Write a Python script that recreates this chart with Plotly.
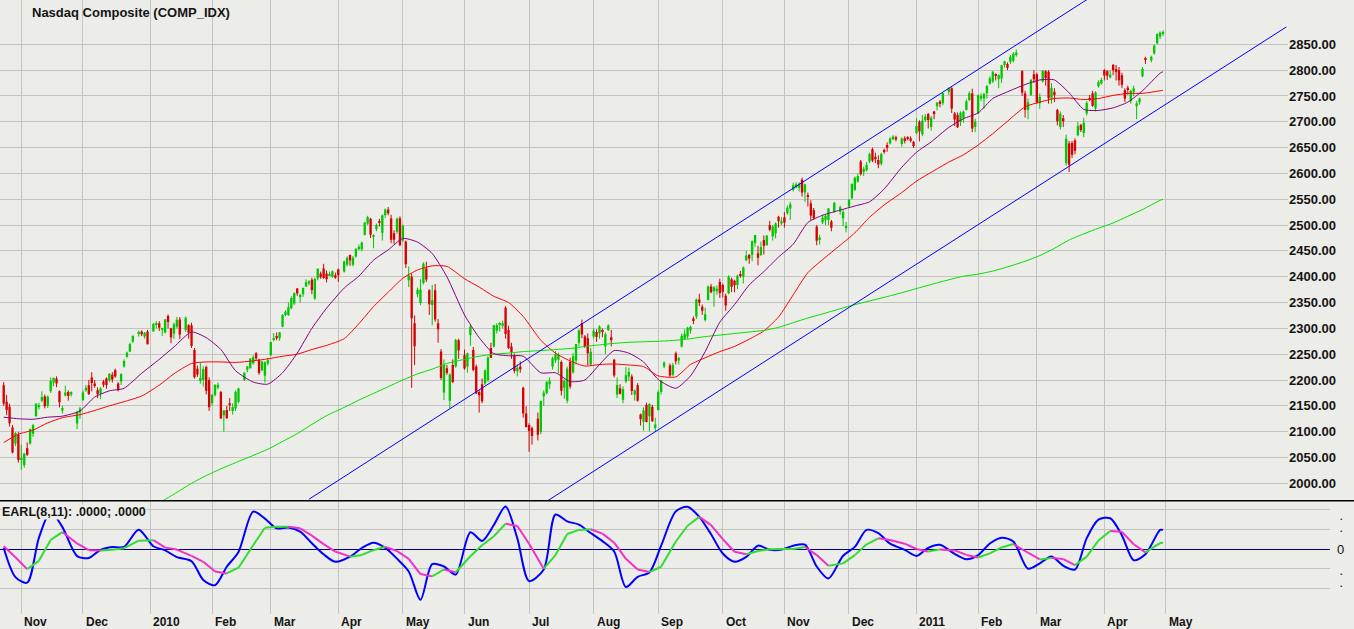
import numpy as np
import pandas as pd
import plotly.graph_objects as go

# ---------------- data ----------------
FIRST_DAY = "2009-10-23"
LAST_DAY = "2011-04-29"
market_holidays = ["2009-11-26", "2009-12-25", "2010-01-01", "2010-01-18", "2010-02-15",
                   "2010-04-02", "2010-05-31", "2010-07-05", "2010-09-06", "2010-11-25",
                   "2010-12-24", "2011-01-17", "2011-02-21", "2011-04-22"]

opens = [
    2190, 2158, 2148, 2108, 2077, 2094,
    2045, 2035, 2068, 2077, 2096, 2130, 2149, 2160, 2168, 2150, 2178, 2195, 2203, 2178, 2141, 2170, 2177, 2172, 2116, 2137,
    2161, 2180, 2190, 2205, 2193, 2180, 2174, 2197, 2203, 2200, 2210, 2219, 2193, 2197, 2226, 2245, 2255, 2274, 2290, 2294, 2284, 2294,
    2294, 2307, 2310, 2298, 2292, 2324, 2300, 2290, 2303, 2317, 2297, 2306, 2306, 2258, 2222, 2200, 2200, 2225, 2200,
    2155, 2171, 2185, 2177, 2132, 2142, 2155, 2140, 2145, 2158, 2200, 2220, 2223, 2232, 2252, 2239, 2219, 2208, 2232,
    2248, 2279, 2285, 2281, 2303, 2326, 2326, 2339, 2348, 2377, 2361, 2366, 2381, 2387, 2394, 2358, 2397, 2406, 2416, 2406, 2403, 2400, 2403,
    2414, 2410, 2423, 2442, 2423, 2439, 2453, 2453, 2481, 2503, 2512, 2477, 2492, 2508, 2485, 2519, 2530, 2513, 2484, 2487, 2513,
    2470, 2468, 2393, 2400, 2310, 2366, 2349, 2388, 2416, 2374, 2345, 2374, 2310, 2255, 2176, 2223, 2160, 2229, 2226, 2277,
    2248, 2226, 2287, 2258, 2226, 2177, 2192, 2193, 2200, 2262, 2265, 2296, 2307, 2305, 2340, 2297, 2265, 2248, 2217, 2226, 2185, 2135,
    2113, 2107, 2125, 2100, 2168, 2175, 2192, 2226, 2238, 2239, 2235, 2185, 2160, 2235, 2215, 2238, 2272, 2310, 2284, 2281, 2230,
    2284, 2293, 2290, 2297, 2265, 2297, 2283, 2239, 2172, 2184, 2162, 2197, 2207, 2207, 2172, 2190, 2133, 2119, 2152, 2130, 2148, 2107,
    2142, 2177, 2226, 2228, 2210, 2252, 2238, 2265, 2280, 2284, 2296, 2319, 2323, 2356, 2342, 2316, 2355, 2381, 2372, 2372, 2390,
    2384, 2363, 2368, 2395, 2392, 2384, 2405, 2400, 2432, 2442, 2442, 2465, 2445, 2442, 2471, 2461, 2500, 2478, 2484, 2516, 2503,
    2515, 2523, 2532, 2568, 2573, 2572, 2588, 2563, 2556, 2542, 2529, 2497, 2471, 2505, 2510, 2510, 2507, 2526, 2526, 2513, 2494,
    2536, 2552, 2568, 2584, 2623, 2603, 2606, 2623, 2647, 2632, 2626, 2619, 2645, 2655, 2658, 2666, 2670, 2657, 2668, 2670, 2668, 2661,
    2678, 2700, 2676, 2703, 2715, 2690, 2720, 2730, 2739, 2736, 2758, 2765, 2716, 2713, 2700, 2707, 2723, 2742, 2755, 2690,
    2716, 2745, 2745, 2755, 2774, 2778, 2792, 2783, 2784, 2810, 2812, 2816, 2818, 2829, 2798, 2755, 2723, 2752, 2792,
    2792, 2736, 2778, 2798, 2797, 2745, 2758, 2723, 2690, 2707, 2620, 2658, 2659, 2664, 2674, 2694, 2678, 2716, 2745, 2755, 2726, 2769, 2774,
    2800, 2798, 2786, 2810, 2802, 2800, 2790, 2761, 2766, 2740, 2758, 2730, 2738, 2788, 2822, 2819, 2832, 2852, 2865, 2870,
]
highs = [
    2196, 2171, 2154, 2113, 2099, 2099,
    2075, 2059, 2079, 2106, 2115, 2155, 2156, 2178, 2172, 2170, 2205, 2205, 2207, 2180, 2150, 2189, 2180, 2178, 2140, 2148,
    2180, 2190, 2200, 2215, 2200, 2186, 2186, 2200, 2205, 2213, 2215, 2222, 2196, 2213, 2240, 2255, 2272, 2286, 2296, 2296, 2293, 2297,
    2311, 2314, 2314, 2301, 2318, 2327, 2301, 2311, 2322, 2322, 2323, 2308, 2311, 2262, 2228, 2233, 2227, 2228, 2205,
    2173, 2192, 2195, 2179, 2142, 2150, 2165, 2155, 2180, 2185, 2215, 2227, 2242, 2248, 2254, 2241, 2237, 2236, 2243,
    2274, 2291, 2292, 2293, 2327, 2335, 2350, 2362, 2370, 2378, 2367, 2379, 2395, 2393, 2398, 2398, 2416, 2410, 2425, 2412, 2410, 2412, 2408,
    2416, 2431, 2439, 2443, 2440, 2455, 2462, 2468, 2506, 2518, 2514, 2482, 2503, 2512, 2520, 2532, 2535, 2520, 2490, 2515, 2517,
    2501, 2470, 2420, 2406, 2325, 2379, 2395, 2428, 2429, 2376, 2384, 2386, 2318, 2260, 2240, 2229, 2213, 2240, 2280, 2280,
    2259, 2253, 2307, 2264, 2230, 2180, 2203, 2220, 2246, 2272, 2307, 2310, 2312, 2315, 2343, 2305, 2272, 2251, 2230, 2236, 2187, 2149,
    2116, 2110, 2137, 2160, 2180, 2197, 2205, 2245, 2256, 2253, 2238, 2201, 2226, 2243, 2252, 2270, 2298, 2317, 2287, 2290, 2262,
    2300, 2298, 2306, 2300, 2292, 2308, 2297, 2241, 2205, 2192, 2188, 2225, 2224, 2211, 2182, 2194, 2135, 2147, 2156, 2155, 2152, 2127,
    2180, 2200, 2236, 2232, 2233, 2255, 2245, 2290, 2298, 2303, 2305, 2323, 2358, 2367, 2346, 2340, 2383, 2386, 2382, 2383, 2396,
    2387, 2367, 2403, 2398, 2394, 2404, 2411, 2420, 2450, 2444, 2470, 2481, 2460, 2468, 2480, 2481, 2508, 2500, 2505, 2518, 2515,
    2525, 2538, 2545, 2582, 2583, 2583, 2592, 2580, 2563, 2548, 2533, 2500, 2481, 2520, 2520, 2533, 2510, 2545, 2538, 2530, 2506,
    2550, 2581, 2594, 2600, 2626, 2613, 2622, 2640, 2650, 2640, 2635, 2640, 2648, 2660, 2670, 2674, 2673, 2670, 2672, 2672, 2672, 2663,
    2707, 2703, 2713, 2715, 2717, 2711, 2721, 2738, 2742, 2756, 2766, 2767, 2719, 2718, 2720, 2722, 2743, 2759, 2764, 2706,
    2753, 2755, 2756, 2771, 2788, 2798, 2794, 2792, 2810, 2818, 2815, 2829, 2835, 2840, 2800, 2760, 2745, 2783, 2800,
    2795, 2755, 2800, 2800, 2800, 2775, 2765, 2725, 2720, 2713, 2675, 2663, 2663, 2668, 2700, 2696, 2708, 2740, 2752, 2760, 2759, 2780, 2785,
    2802, 2800, 2800, 2812, 2810, 2806, 2795, 2765, 2770, 2762, 2770, 2740, 2747, 2806, 2826, 2828, 2850, 2871, 2875, 2877,
]
lows = [
    2150, 2132, 2110, 2058, 2072, 2040,
    2026, 2030, 2053, 2075, 2090, 2129, 2143, 2157, 2145, 2146, 2175, 2188, 2186, 2147, 2135, 2168, 2160, 2168, 2105, 2125,
    2160, 2177, 2171, 2178, 2185, 2165, 2163, 2186, 2183, 2196, 2195, 2204, 2178, 2190, 2224, 2243, 2254, 2272, 2284, 2285, 2280, 2269,
    2294, 2300, 2295, 2285, 2290, 2300, 2271, 2280, 2300, 2279, 2293, 2280, 2262, 2203, 2206, 2193, 2187, 2172, 2140,
    2150, 2168, 2182, 2125, 2100, 2125, 2140, 2133, 2140, 2155, 2198, 2215, 2222, 2230, 2238, 2210, 2217, 2195, 2228,
    2246, 2275, 2277, 2276, 2302, 2324, 2324, 2337, 2345, 2363, 2350, 2361, 2380, 2383, 2366, 2355, 2393, 2396, 2396, 2389, 2401, 2398, 2396,
    2390, 2408, 2420, 2421, 2420, 2437, 2452, 2449, 2480, 2500, 2475, 2455, 2488, 2497, 2470, 2514, 2519, 2465, 2463, 2483, 2459,
    2467, 2417, 2380, 2185, 2229, 2360, 2345, 2385, 2390, 2326, 2306, 2313, 2272, 2200, 2161, 2210, 2145, 2194, 2224, 2241,
    2220, 2214, 2266, 2217, 2173, 2137, 2155, 2190, 2196, 2243, 2263, 2290, 2294, 2300, 2280, 2260, 2241, 2213, 2207, 2214, 2127, 2108,
    2061, 2075, 2083, 2095, 2150, 2172, 2183, 2220, 2233, 2213, 2170, 2164, 2155, 2183, 2212, 2230, 2266, 2281, 2262, 2229, 2228,
    2280, 2274, 2280, 2283, 2250, 2295, 2265, 2205, 2165, 2172, 2155, 2194, 2198, 2171, 2160, 2158, 2112, 2102, 2118, 2100, 2119, 2100,
    2141, 2172, 2223, 2206, 2207, 2230, 2230, 2263, 2278, 2280, 2290, 2308, 2318, 2343, 2326, 2313, 2354, 2368, 2342, 2365, 2359,
    2360, 2334, 2366, 2370, 2370, 2376, 2398, 2387, 2430, 2425, 2430, 2458, 2422, 2440, 2443, 2460, 2488, 2470, 2474, 2495, 2500,
    2495, 2520, 2510, 2565, 2571, 2565, 2555, 2545, 2536, 2509, 2510, 2461, 2462, 2502, 2500, 2500, 2488, 2524, 2520, 2498, 2486,
    2535, 2550, 2566, 2582, 2596, 2595, 2604, 2620, 2622, 2620, 2610, 2615, 2638, 2642, 2656, 2665, 2662, 2652, 2658, 2664, 2660, 2649,
    2676, 2662, 2672, 2700, 2687, 2683, 2705, 2722, 2728, 2732, 2752, 2717, 2692, 2688, 2692, 2698, 2722, 2740, 2680, 2680,
    2715, 2740, 2725, 2745, 2772, 2775, 2780, 2765, 2775, 2805, 2800, 2812, 2815, 2826, 2750, 2708, 2705, 2750, 2775,
    2735, 2725, 2776, 2770, 2735, 2735, 2738, 2693, 2685, 2690, 2615, 2603, 2630, 2637, 2672, 2680, 2670, 2712, 2740, 2729, 2720, 2766, 2772,
    2780, 2781, 2784, 2790, 2780, 2770, 2765, 2738, 2752, 2735, 2750, 2705, 2733, 2786, 2812, 2815, 2830, 2850, 2860, 2866,
]
closes = [
    2154.5, 2141.9, 2116.1, 2059.6, 2097.6, 2045.1,
    2049.2, 2057.3, 2055.5, 2105.3, 2112.4, 2154.1, 2151.1, 2166.9, 2149.0, 2167.9, 2197.9, 2203.8, 2193.1, 2156.8, 2146.0, 2176.0, 2169.2, 2176.1, 2138.4, 2144.6,
    2175.8, 2185.0, 2173.1, 2194.4, 2189.6, 2172.9, 2183.7, 2190.9, 2190.3, 2212.1, 2201.1, 2206.9, 2180.1, 2211.7, 2237.0, 2252.7, 2269.6, 2285.7, 2291.1, 2288.4, 2291.3, 2269.2,
    2308.4, 2308.7, 2301.1, 2300.1, 2317.2, 2312.4, 2282.3, 2307.9, 2316.7, 2288.0, 2320.4, 2291.3, 2265.7, 2205.3, 2210.8, 2203.7, 2221.4, 2179.0, 2147.4,
    2171.2, 2190.1, 2190.9, 2125.4, 2141.1, 2126.1, 2150.9, 2147.9, 2177.4, 2183.5, 2214.2, 2226.3, 2241.7, 2243.9, 2242.0, 2213.4, 2235.9, 2234.2, 2238.3,
    2273.6, 2280.8, 2280.9, 2292.3, 2326.4, 2332.2, 2340.7, 2358.9, 2368.5, 2367.7, 2362.2, 2378.0, 2389.1, 2391.3, 2374.4, 2395.4, 2415.2, 2398.8, 2397.4, 2395.1, 2404.4, 2410.7, 2397.9,
    2402.6, 2429.5, 2436.8, 2431.2, 2436.8, 2454.1, 2457.9, 2465.9, 2504.9, 2515.7, 2481.3, 2480.1, 2500.3, 2504.6, 2519.1, 2530.2, 2522.9, 2471.5, 2471.7, 2511.9, 2461.2,
    2498.7, 2424.3, 2402.3, 2319.6, 2265.6, 2374.7, 2375.3, 2425.0, 2394.4, 2346.9, 2354.2, 2317.3, 2298.4, 2204.0, 2229.0, 2213.6, 2210.9, 2195.9, 2277.7, 2257.0,
    2222.3, 2251.7, 2303.0, 2219.2, 2173.9, 2170.6, 2158.9, 2218.7, 2243.6, 2243.0, 2305.9, 2305.9, 2307.2, 2309.8, 2289.1, 2261.8, 2254.2, 2217.4, 2223.5, 2220.6, 2135.2, 2109.2,
    2101.4, 2091.8, 2093.9, 2159.5, 2175.4, 2196.5, 2198.4, 2242.0, 2249.8, 2249.1, 2179.0, 2198.4, 2222.5, 2187.3, 2245.9, 2269.5, 2296.4, 2288.3, 2264.6, 2251.7, 2254.7,
    2295.4, 2283.5, 2303.6, 2293.1, 2288.5, 2305.7, 2277.2, 2208.6, 2190.3, 2173.5, 2181.9, 2209.4, 2215.7, 2178.9, 2179.8, 2159.6, 2123.8, 2141.5, 2118.7, 2153.6, 2120.0, 2114.0,
    2176.8, 2200.0, 2233.8, 2208.9, 2228.9, 2236.2, 2242.5, 2285.7, 2289.8, 2301.3, 2303.2, 2315.6, 2355.8, 2349.4, 2334.2, 2327.1, 2381.2, 2369.8, 2379.6, 2376.6, 2368.6,
    2370.8, 2344.5, 2399.8, 2380.7, 2383.7, 2401.9, 2402.3, 2417.9, 2441.2, 2435.4, 2468.8, 2480.7, 2436.9, 2457.4, 2459.7, 2479.4, 2490.9, 2497.3, 2503.3, 2507.4, 2507.4,
    2504.8, 2533.5, 2540.3, 2577.3, 2579.0, 2580.1, 2563.0, 2578.8, 2555.5, 2518.2, 2513.8, 2469.8, 2476.0, 2514.4, 2518.1, 2532.0, 2494.9, 2543.1, 2534.6, 2525.2, 2498.2,
    2549.4, 2579.4, 2591.5, 2594.9, 2598.5, 2609.2, 2616.7, 2637.5, 2624.9, 2627.7, 2617.2, 2637.3, 2643.0, 2649.6, 2667.6, 2671.5, 2665.6, 2667.3, 2662.9, 2666.9, 2663.0, 2652.9,
    2691.5, 2681.3, 2702.2, 2709.9, 2703.2, 2707.8, 2716.8, 2737.3, 2735.3, 2755.3, 2765.9, 2725.4, 2704.3, 2689.5, 2717.6, 2719.3, 2739.5, 2755.3, 2686.9, 2700.1,
    2751.2, 2749.6, 2753.9, 2769.3, 2784.0, 2797.1, 2789.1, 2790.5, 2809.4, 2817.2, 2804.4, 2825.6, 2831.6, 2834.0, 2756.4, 2723.0, 2737.9, 2781.0, 2782.3,
    2737.4, 2748.1, 2798.7, 2784.7, 2745.6, 2765.8, 2751.7, 2701.0, 2715.6, 2701.0, 2667.3, 2616.8, 2636.0, 2643.7, 2692.1, 2683.9, 2698.3, 2736.4, 2743.1, 2730.7, 2756.9, 2776.8, 2781.1,
    2789.6, 2789.2, 2791.2, 2799.8, 2796.1, 2780.4, 2771.5, 2744.8, 2761.5, 2760.2, 2764.7, 2735.4, 2745.0, 2802.5, 2820.2, 2825.9, 2847.5, 2869.9, 2872.5, 2873.5,
]

# moving averages, one value every 5th bar (+ the last bar)
ma_step = 5
ma20_values = [2128, 2125, 2124, 2128, 2130, 2140, 2167, 2179, 2184, 2213, 2240, 2264, 2293, 2282, 2259, 2218,
               2196, 2192, 2214, 2252, 2300, 2339, 2378, 2401, 2432, 2452, 2474, 2467, 2445, 2400, 2326, 2282,
               2251, 2247, 2246, 2214, 2214, 2197, 2200, 2230, 2257, 2252, 2235, 2201, 2184, 2208, 2255, 2312,
               2346, 2384, 2410, 2438, 2463, 2505, 2519, 2529, 2537, 2545, 2570, 2612, 2641, 2661, 2689, 2706,
               2717, 2745, 2758, 2772, 2781, 2781, 2756, 2724, 2722, 2727, 2738, 2760, 2794, 2797]
ma50_values = [2079, 2095, 2103, 2117, 2127, 2133, 2141, 2150, 2158, 2169, 2190, 2212, 2232, 2235, 2235, 2234,
               2237, 2241, 2246, 2250, 2259, 2267, 2280, 2309, 2342, 2370, 2397, 2413, 2421, 2420, 2396, 2380,
               2362, 2350, 2323, 2277, 2252, 2237, 2227, 2230, 2231, 2229, 2226, 2208, 2206, 2230, 2243, 2255,
               2265, 2279, 2295, 2322, 2365, 2408, 2433, 2461, 2485, 2515, 2539, 2563, 2585, 2602, 2622, 2636,
               2655, 2677, 2701, 2729, 2738, 2745, 2746, 2743, 2745, 2751, 2755, 2755, 2760, 2761]
ma200_first_bar = 50
ma200_values = [1962, 1979, 2000, 2015, 2028, 2040, 2054, 2066, 2081, 2096, 2114, 2131, 2147, 2161, 2174, 2187,
                2200, 2212, 2221, 2232, 2240, 2246, 2250, 2252, 2255, 2257, 2259, 2261, 2265, 2268, 2271, 2273,
                2274, 2275, 2277, 2280, 2284, 2287, 2290, 2293, 2296, 2302, 2311, 2320, 2328, 2338, 2346, 2353,
                2360, 2369, 2377, 2385, 2394, 2401, 2405, 2411, 2419, 2430, 2441, 2455, 2471, 2483, 2494, 2504,
                2517, 2530, 2548, 2550]

# EARL(8,11) lines, one value every 4th bar (+ the last bar)
earl_step = 4
earl_fast = [0.05, -1.43, -1.71, 0.57, 1.89, 1.11, -0.36, -0.46, -0.04, 0.10, 0.11, 0.98, 0.14, -0.07, -0.41, -0.62,
             -1.57, -1.84, -0.90, -0.15, 1.90, 1.54, 1.05, 1.09, 0.88, 0.29, -0.27, -0.65, -0.39, 0.05, 0.32, 0.06,
             -0.49, -1.14, -2.58, -0.77, -0.89, -1.30, 0.85, 0.41, 1.22, 2.16, 0.54, -1.63, -1.04, 1.75, 1.40, 1.24,
             0.81, 0.40, -0.13, -1.93, -1.41, -1.19, 0.17, 1.91, 2.14, 1.63, 0.75, -0.23, -0.65, -0.40, 0.17, -0.04,
             -0.03, 0.17, 0.22, -0.89, -1.50, -0.34, 0.11, 0.97, 0.80, 0.27, -0.04, -0.35, 0.06, 0.21, -0.25, -0.52,
             -0.31, 0.28, 0.57, 0.38, -1.00, -0.73, -0.38, -0.85, -1.04, 0.55, 1.49, 1.56, 0.69, -0.57, -0.27, 0.97, 0.97]
earl_signal = [0.14, -0.42, -1.02, -0.60, 0.46, 0.86, 0.28, -0.06, -0.08, -0.04, 0.04, 0.42, 0.45, 0.07, -0.03, -0.35,
               -0.65, -1.14, -1.24, -0.95, 0.19, 1.08, 1.13, 1.13, 1.05, 0.68, 0.25, -0.13, -0.39, -0.30, -0.06, 0.11,
               -0.10, -0.50, -1.27, -1.39, -1.04, -1.18, -0.37, 0.19, 0.65, 1.28, 1.17, 0.27, -1.00, -0.31, 0.76, 0.97,
               1.00, 0.78, 0.32, -0.50, -1.04, -1.17, -0.90, 0.38, 1.18, 1.63, 1.21, 0.50, -0.14, -0.27, -0.10, -0.01,
               0.00, 0.00, 0.10, -0.31, -0.85, -0.73, -0.31, 0.24, 0.54, 0.46, 0.27, 0.00, -0.13, -0.02, -0.07, -0.30,
               -0.43, -0.22, 0.08, 0.25, -0.19, -0.53, -0.46, -0.51, -0.82, -0.39, 0.43, 0.91, 0.87, 0.24, -0.17, 0.30, 0.32]

# trend channel drawn on the chart (date, price)
channel_upper_dates = ["2010-03-18", "2011-03-25"]
channel_upper_values = [1969.1, 2940.0]
channel_lower_dates = ["2010-07-09", "2011-06-28"]
channel_lower_values = [1965.0, 2883.6]

price_ticks = list(range(2000, 2851, 50))
month_labels = ["Nov", "Dec", "2010", "Feb", "Mar", "Apr", "May", "Jun", "Jul", "Aug", "Sep", "Oct",
                "Nov", "Dec", "2011", "Feb", "Mar", "Apr", "May"]

# ---------------- positions on a weekday axis ----------------
trade_days = pd.bdate_range(FIRST_DAY, LAST_DAY)
trade_days = trade_days[~trade_days.isin(pd.to_datetime(market_holidays))]
n = min(len(trade_days), len(closes))
trade_days = trade_days[:n]
o = np.array(opens[:n], float)
h = np.array(highs[:n], float)
l = np.array(lows[:n], float)
c = np.array(closes[:n], float)

day0 = np.datetime64(FIRST_DAY)


def slot_of(days):
    d = pd.to_datetime(days).values.astype("datetime64[D]")
    return np.busday_count(day0, d).astype(float)


xs = slot_of(trade_days)
month_starts = pd.date_range("2009-11-01", "2011-05-31", freq="BMS")
month_x = slot_of(month_starts)


def sample_x(first, step, count):
    idx = list(range(first, n, step))
    if idx[-1] != n - 1:
        idx.append(n - 1)
    idx = idx[:count]
    return xs[idx]


# ---------------- styling ----------------
W, H = 1354, 629
BG = "#ECECE8"
GRID = "#C3C3C3"
UP = "#00C800"
DOWN = "#D80000"
TXT = "#141414"
MAIN_RIGHT = 1288.0
LOW_RIGHT = 1330.0
SEP_Y = 500.7
LOW_BOTTOM = 614.0
PX0 = 3.7          # pixel of first slot
PX_PER_SLOT = 2.935


def py(yp):
    return 1 - yp / H


x_lo = (0 - PX0) / PX_PER_SLOT
x_hi_main = (MAIN_RIGHT - PX0) / PX_PER_SLOT
x_hi_low = (LOW_RIGHT - PX0) / PX_PER_SLOT
y_top = 2000 + 483.3 * 1.93622
y_bot = 2000 - (SEP_Y - 483.3) * 1.93622
e_px = 19.7
e_top = (549 - SEP_Y) / e_px
e_bot = (549 - LOW_BOTTOM) / e_px

fig = go.Figure()

# candle bodies and wicks
up = c >= o
for mask, col in ((up, UP), (~up, DOWN)):
    base = np.minimum(o, c)[mask]
    height = np.maximum(np.abs(c - o)[mask], 2.0)
    fig.add_trace(go.Bar(x=xs[mask], y=height, base=base, width=0.8,
                         marker=dict(color=col, line=dict(width=0)),
                         hoverinfo="skip", xaxis="x", yaxis="y"))
    wx, wy = [], []
    for xi, lo_, hi_ in zip(xs[mask], l[mask], h[mask]):
        wx += [xi, xi, None]
        wy += [lo_, hi_, None]
    fig.add_trace(go.Scatter(x=wx, y=wy, mode="lines", line=dict(color=col, width=1),
                             hoverinfo="skip", xaxis="x", yaxis="y"))

# moving averages
fig.add_trace(go.Scatter(x=sample_x(0, ma_step, len(ma50_values)), y=ma50_values, mode="lines",
                         line=dict(color="#FF0000", width=1, shape="spline", smoothing=0.6),
                         hoverinfo="skip", xaxis="x", yaxis="y"))
fig.add_trace(go.Scatter(x=sample_x(ma200_first_bar, ma_step, len(ma200_values)), y=ma200_values, mode="lines",
                         line=dict(color="#00E000", width=1, shape="spline", smoothing=0.6),
                         hoverinfo="skip", xaxis="x", yaxis="y"))
fig.add_trace(go.Scatter(x=sample_x(0, ma_step, len(ma20_values)), y=ma20_values, mode="lines",
                         line=dict(color="#800080", width=1, shape="spline", smoothing=0.6),
                         hoverinfo="skip", xaxis="x", yaxis="y"))

# trend channel
for dts, vals in ((channel_upper_dates, channel_upper_values), (channel_lower_dates, channel_lower_values)):
    fig.add_trace(go.Scatter(x=slot_of(dts), y=vals, mode="lines", line=dict(color="#0000FF", width=1),
                             hoverinfo="skip", xaxis="x", yaxis="y"))

# EARL panel
ex = sample_x(0, earl_step, len(earl_fast))
fig.add_trace(go.Scatter(x=ex, y=earl_fast, mode="lines",
                         line=dict(color="#0000FF", width=2, shape="spline", smoothing=0.8),
                         hoverinfo="skip", xaxis="x2", yaxis="y2"))
gx, gy, mx, my = [], [], [], []
for k in range(len(earl_signal) - 1):
    seg_x = [ex[k], ex[k + 1], None]
    seg_y = [earl_signal[k], earl_signal[k + 1], None]
    if earl_signal[k + 1] >= earl_signal[k]:
        gx += seg_x
        gy += seg_y
    else:
        mx += seg_x
        my += seg_y
fig.add_trace(go.Scatter(x=mx, y=my, mode="lines", line=dict(color="#F030C8", width=2),
                         hoverinfo="skip", xaxis="x2", yaxis="y2"))
fig.add_trace(go.Scatter(x=gx, y=gy, mode="lines", line=dict(color="#30DD30", width=2),
                         hoverinfo="skip", xaxis="x2", yaxis="y2"))

axis_common = dict(showline=False, ticks="", zeroline=False, fixedrange=True)
fig.update_layout(
    width=W, height=H, margin=dict(l=0, r=0, t=0, b=0),
    paper_bgcolor=BG, plot_bgcolor=BG, showlegend=False, barmode="overlay",
    font=dict(family="Liberation Sans, Arial, sans-serif", color=TXT),
    xaxis=dict(domain=[0, MAIN_RIGHT / W], range=[x_lo, x_hi_main], tickvals=month_x,
               showticklabels=False, showgrid=True, gridcolor=GRID, gridwidth=1, anchor="y", **axis_common),
    yaxis=dict(domain=[py(SEP_Y), 1], range=[y_bot, y_top], side="right", tickvals=price_ticks,
               ticktext=["<b>%.2f</b>" % v for v in price_ticks], tickfont=dict(size=13, color=TXT),
               showgrid=True, gridcolor=GRID, gridwidth=1, anchor="x", automargin=False, **axis_common),
    xaxis2=dict(domain=[0, LOW_RIGHT / W], range=[x_lo, x_hi_low], tickvals=month_x,
                showticklabels=False, showgrid=True, gridcolor=GRID, gridwidth=1, anchor="y2", **axis_common),
    yaxis2=dict(domain=[py(LOW_BOTTOM), py(SEP_Y)], range=[e_bot, e_top], tickvals=[-2, -1, 1, 2],
                showticklabels=False, showgrid=True, gridcolor=GRID, gridwidth=1, anchor="x2",
                showline=False, ticks="", fixedrange=True,
                zeroline=True, zerolinecolor="#000080", zerolinewidth=1),
)

# separator between panels
fig.add_shape(type="line", xref="paper", yref="paper", x0=0, x1=1, y0=py(SEP_Y), y1=py(SEP_Y),
              line=dict(color="#000000", width=1.5))

ann = []
ann.append(dict(text="<b>Nasdaq Composite (COMP_IDX)</b>", xref="paper", yref="paper",
                x=30 / W, y=py(12), xanchor="left", yanchor="middle", showarrow=False,
                font=dict(size=13, color=TXT)))
ann.append(dict(text="<b>EARL(8,11): .0000; .0000</b>", xref="paper", yref="paper",
                x=1 / W, y=py(511.5), xanchor="left", yanchor="middle", showarrow=False,
                font=dict(size=12.5, color=TXT), bgcolor=BG, borderpad=0))
for mx_, lab in zip(month_x, month_labels):
    ann.append(dict(text="<b>%s</b>" % lab, xref="x2", yref="paper", x=mx_, y=py(622),
                    xanchor="left", yanchor="middle", xshift=1, showarrow=False,
                    font=dict(size=12, color=TXT)))
# right-hand labels of the indicator panel
ann.append(dict(text="<b>.</b><br><b>.</b>", xref="paper", yref="paper", x=1341.5 / W, y=py(523),
                xanchor="center", yanchor="middle", showarrow=False, font=dict(size=9, color=TXT)))
ann.append(dict(text="0", xref="paper", yref="paper", x=1340.5 / W, y=py(549.5),
                xanchor="center", yanchor="middle", showarrow=False, font=dict(size=13, color=TXT)))
ann.append(dict(text="<b>.</b><br><b>.</b>", xref="paper", yref="paper", x=1341.5 / W, y=py(578),
                xanchor="center", yanchor="middle", showarrow=False, font=dict(size=9, color=TXT)))
fig.update_layout(annotations=ann)

fig.write_html("out.html", config={"displayModeBar": False},
               post_script="document.body.style.margin='0px';document.documentElement.style.overflow='hidden';")
